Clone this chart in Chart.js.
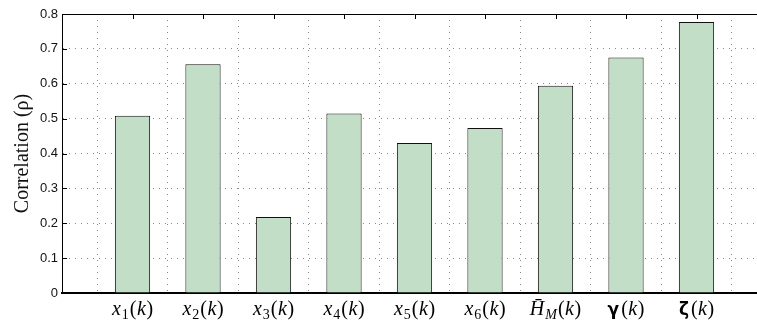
<!DOCTYPE html>
<html>
<head>
<meta charset="utf-8">
<script src="https://cdn.jsdelivr.net/npm/chart.js@4"></script>
<style>
html, body { margin: 0; padding: 0; background: #fff; overflow: hidden; }
#wrap { width: 800px; height: 326px; }
</style>
</head>
<body>
<div id="wrap"><canvas id="myChart"></canvas></div>
<script>
// categories use _ for a subscript, the rest is drawn as math text
const categories = ['x_1(k)', 'x_2(k)', 'x_3(k)', 'x_4(k)', 'x_5(k)', 'x_6(k)', 'H\u0304_M(k)', 'γ(k)', 'ζ(k)'];
const correlation = [0.508, 0.656, 0.218, 0.515, 0.430, 0.473, 0.594, 0.675, 0.777];
const yTicks = [0, 0.1, 0.2, 0.3, 0.4, 0.5, 0.6, 0.7, 0.8];

function drawMath(ctx, label, cx, y) {
  const head = label.slice(0, label.indexOf('('));
  const parts = head.split('_');
  const main = parts[0], sub = parts[1];
  const greek = /[\u03b1-\u03c9]/.test(main);
  const pieces = [
    { t: main, f: greek ? 'bold 17px "DejaVu Sans"' : 'italic 20px "Liberation Serif"', dy: 0, gap: greek ? 2 : 1 }
  ];
  if (sub) {
    pieces.push({ t: sub, f: /\d/.test(sub) ? '14px "Liberation Serif"' : 'italic 14px "Liberation Serif"', dy: 4, gap: 1 });
  }
  pieces.push({ t: '(', f: '20px "Liberation Serif"', dy: 0, gap: 0.5 });
  pieces.push({ t: 'k', f: 'italic 20px "Liberation Serif"', dy: 0, gap: 0.5 });
  pieces.push({ t: ')', f: '20px "Liberation Serif"', dy: 0, gap: 0 });

  let total = 0;
  pieces.forEach(p => {
    ctx.font = p.f;
    p.w = ctx.measureText(p.t).width;
    total += p.w + p.gap;
  });
  let px = cx - total / 2;
  ctx.textAlign = 'left';
  pieces.forEach(p => {
    ctx.font = p.f;
    ctx.fillText(p.t, px, y + p.dy);
    px += p.w + p.gap;
  });
}

const frame = {
  id: 'frame',
  afterDraw(chart) {
    const { ctx, chartArea: a, scales: { x, y } } = chart;
    ctx.save();
    ctx.strokeStyle = '#000';
    ctx.lineWidth = 1;
    ctx.beginPath();
    ctx.moveTo(a.left, a.top + 0.5);
    ctx.lineTo(a.right, a.top + 0.5);
    categories.forEach((c, i) => {
      const px = Math.round(x.getPixelForValue(i + 1)) + 0.5;
      ctx.moveTo(px, a.top);
      ctx.lineTo(px, a.top + 5);
    });
    yTicks.forEach(v => {
      if (v > 0 && v < 0.8) {
        const py = Math.round(y.getPixelForValue(v)) + 0.5;
        ctx.moveTo(a.left, py);
        ctx.lineTo(a.left + 5, py);
      }
    });
    ctx.stroke();

    ctx.fillStyle = '#000';
    ctx.textBaseline = 'alphabetic';
    categories.forEach((c, i) => drawMath(ctx, c, x.getPixelForValue(i + 1), 315));
    ctx.restore();
  }
};

const data = {
  labels: [''].concat(categories, ['']),
  datasets: [{
    data: [null].concat(correlation, [null]),
    backgroundColor: '#c2dec6',
    borderColor: '#111',
    borderWidth: 1,
    barPercentage: 0.5,
    categoryPercentage: 1
  }]
};

const config = {
  type: 'bar',
  data: data,
  options: {
    responsive: true,
    maintainAspectRatio: false,
    animation: false,
    layout: { padding: { top: 14, right: 33, left: 0, bottom: 0 } },
    plugins: {
      legend: { display: false },
      tooltip: { enabled: false }
    },
    scales: {
      x: {
        offset: false,
        ticks: { display: false },
        grid: { color: '#888', lineWidth: 1, drawTicks: false },
        border: { color: '#000', width: 2, dash: [1, 5] },
        afterFit: s => { s.height = 33; }
      },
      y: {
        min: 0,
        max: 0.8,
        afterBuildTicks: s => { s.ticks = yTicks.map(v => ({ value: v })); },
        ticks: {
          padding: 4,
          color: '#111',
          font: { family: 'Liberation Sans', size: 13 },
          callback: v => v === 0 ? '0' : v.toFixed(1)
        },
        grid: { color: '#888', lineWidth: 1, drawTicks: false },
        border: { color: '#000', width: 1, dash: [1, 5] },
        title: {
          display: true,
          text: 'Correlation (ρ)',
          color: '#111',
          font: { family: 'Liberation Serif', size: 20 },
          padding: { top: 11, bottom: 0 }
        },
        afterFit: s => { s.width = 62; }
      }
    }
  },
  plugins: [frame]
};

const myChart = new Chart(document.getElementById('myChart'), config);
</script>
</body>
</html>
